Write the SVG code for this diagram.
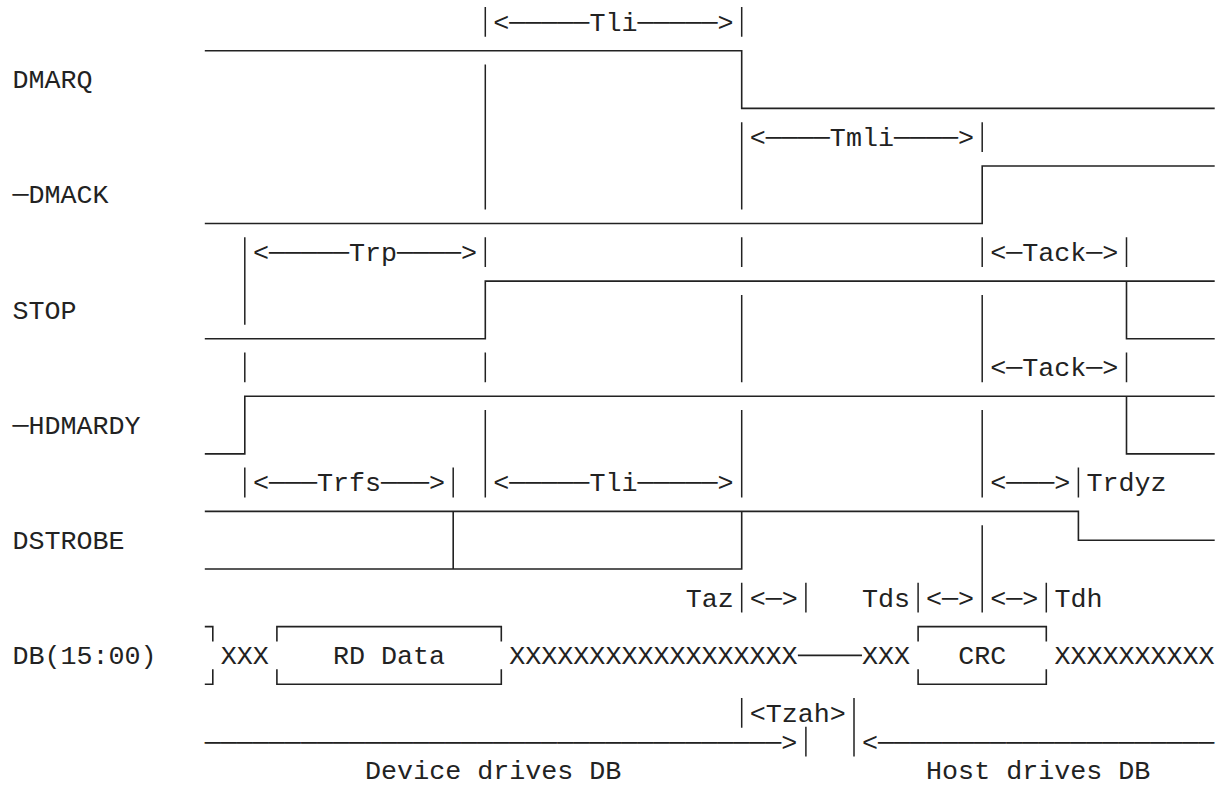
<svg xmlns="http://www.w3.org/2000/svg" width="1219" height="785" viewBox="0 0 1219 785">
<style>
.t{font-family:"Liberation Mono","DejaVu Sans Mono",monospace;font-size:26.7px;fill:#222;}
.w{fill:none;stroke:#222;stroke-width:1.6;}
.m{fill:none;stroke:#222;stroke-width:1.5;}
</style>
<rect width="1219" height="785" fill="#fff"/>
<g id="dmarq">
<text class="t" x="12.4" y="88.3">DMARQ</text>
<path class="w" d="M204.8 50.8H741.7V108.4H1214.7"/>
</g>
<g id="dmack">
<text class="t" x="12.4" y="203.4">─DMACK</text>
<path class="w" d="M204.8 223.5H982.2V166H1214.7"/>
</g>
<g id="stop">
<text class="t" x="12.4" y="318.6">STOP</text>
<path class="w" d="M204.8 338.7H485.3V281.1H1214.7M1126.5 281.1V338.7H1214.7"/>
</g>
<g id="hdmardy">
<text class="t" x="12.4" y="433.8">─HDMARDY</text>
<path class="w" d="M204.8 453.9H244.8V396.3H1214.7M1126.5 396.3V453.9H1214.7"/>
</g>
<g id="dstrobe">
<text class="t" x="12.4" y="548.9">DSTROBE</text>
<path class="w" d="M204.8 511.4H1078.4V540.2H1214.7M204.8 569H741.7V511.4M453.2 511.4V569"/>
</g>
<g id="db">
<text class="t" x="12.4" y="664.1">DB(15:00)</text>
<path class="w" d="M204.8 626.6H212.8V641.6M204.8 684.2H212.8V669.2M276.9 641.6V626.6H501.3V641.6M276.9 669.2V684.2H501.3V669.2M918.1 641.6V626.6H1046.3V641.6M918.1 669.2V684.2H1046.3V669.2M797.9 655.4H862"/>
<text class="t" x="220.8" y="664.1">XXX</text>
<text class="t" x="333" y="664.1">RD Data</text>
<text class="t" x="509.3" y="664.1">XXXXXXXXXXXXXXXXXX</text>
<text class="t" x="862" y="664.1">XXX</text>
<text class="t" x="958.2" y="664.1">CRC</text>
<text class="t" x="1054.4" y="664.1">XXXXXXXXXX</text>
</g>
<g id="connectors">
<path class="m" d="M485.3 7V36.8M485.3 64.6V209.5M485.3 237.3V267.1M485.3 352.5V382.3M485.3 410.1V497.4
M741.7 7V36.8M741.7 122.2V209.5M741.7 237.3V267.1M741.7 294.9V382.3M741.7 410.1V497.4M741.7 582.8V612.6M741.7 698V727.8
M982.2 122.2V152M982.2 237.3V267.1M982.2 294.9V382.3M982.2 410.1V497.4M982.2 525.2V612.6
M244.8 237.3V324.7M244.8 352.5V382.3M244.8 467.6V497.4
M1126.5 237.3V267.1M1126.5 352.5V382.3
M453.2 467.6V497.4M1078.4 467.6V497.4
M805.9 582.8V612.6M805.9 726.8V756.5M854 698V756.5
M918.1 582.8V612.6M1046.3 582.8V612.6"/>
<text class="t" x="493.3" y="30.7">&lt;─────Tli─────&gt;</text>
<text class="t" x="749.8" y="145.9">&lt;────Tmli────&gt;</text>
<text class="t" x="252.9" y="261">&lt;─────Trp────&gt;</text>
<text class="t" x="990.2" y="261">&lt;─Tack─&gt;</text>
<text class="t" x="990.2" y="376.2">&lt;─Tack─&gt;</text>
<text class="t" x="252.9" y="491.3">&lt;───Trfs───&gt;</text>
<text class="t" x="493.3" y="491.3">&lt;─────Tli─────&gt;</text>
<text class="t" x="990.2" y="491.3">&lt;───&gt;</text>
<text class="t" x="1086.4" y="491.3">Trdyz</text>
<text class="t" x="685.7" y="606.5">Taz</text>
<text class="t" x="749.8" y="606.5">&lt;─&gt;</text>
<text class="t" x="862" y="606.5">Tds</text>
<text class="t" x="926.1" y="606.5">&lt;─&gt;</text>
<text class="t" x="990.2" y="606.5">&lt;─&gt;</text>
<text class="t" x="1054.4" y="606.5">Tdh</text>
<text class="t" x="749.8" y="721.7">&lt;Tzah&gt;</text>
</g>
<g id="bus-drive">
<text class="t" x="204.8" y="750.5">────────────────────────────────────&gt;</text>
<text class="t" x="862" y="750.5">&lt;─────────────────────</text>
<text class="t" x="365.1" y="779.2">Device drives DB</text>
<text class="t" x="926.1" y="779.2">Host drives DB</text>
</g>
</svg>
